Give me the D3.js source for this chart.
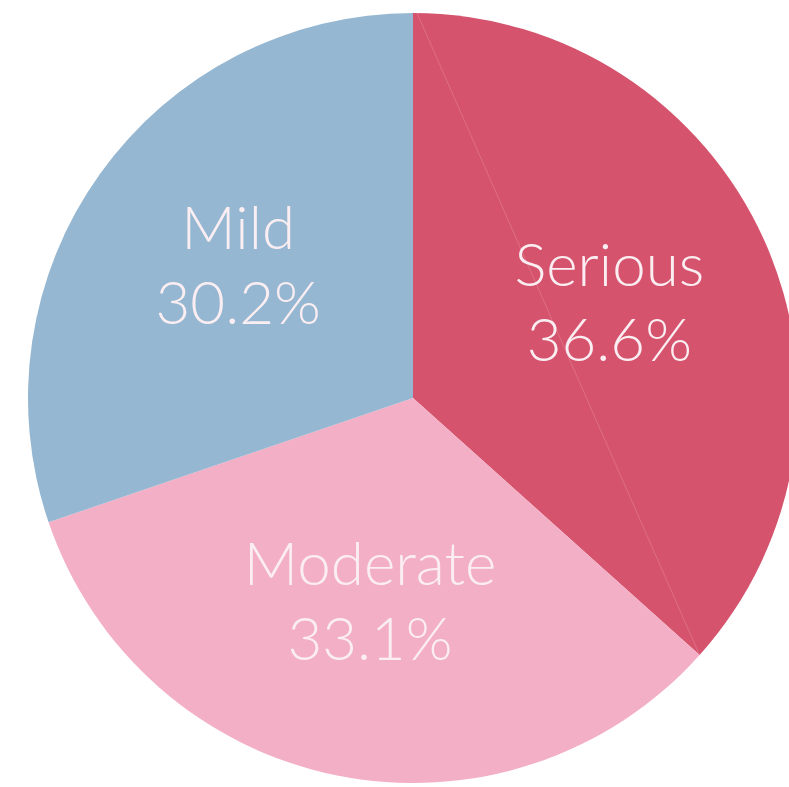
<!DOCTYPE html>
<html>
<head>
<meta charset="utf-8">
<script src="https://cdn.jsdelivr.net/npm/d3@7"></script>
<style>
  body { margin: 0; background: #fff; }
  svg { display: block; }
</style>
</head>
<body>
<svg></svg>
<script>
const categories = ["Serious", "Moderate", "Mild"];
const values = [36.6, 33.1, 30.2];
const colors = ["#d5536d", "#f3afc5", "#95b7d1"];

const width = 789;
const height = 787;
const cx = 413;
const cy = 398;
const radius = 385;

const svg = d3.select("svg").attr("width", width).attr("height", height);

const data = categories.map((c, i) => ({ name: c, value: values[i], color: colors[i] }));

const pie = d3.pie().sort(null).value((d) => d.value);
const arcs = pie(data);

const arc = d3.arc().innerRadius(0).outerRadius(radius);
const labelArc = d3.arc().innerRadius(215).outerRadius(215);

const g = svg.append("g").attr("transform", `translate(${cx},${cy})`);

g.selectAll("path.slice")
  .data(arcs)
  .enter()
  .append("path")
  .attr("class", "slice")
  .attr("d", arc)
  .attr("fill", (d) => d.data.color);

// faint seam across the first slice, as in the original image
const s = arcs[0];
g.append("line")
  .attr("x1", radius * Math.sin(s.startAngle) + 4)
  .attr("y1", -radius * Math.cos(s.startAngle))
  .attr("x2", radius * Math.sin(s.endAngle))
  .attr("y2", -radius * Math.cos(s.endAngle))
  .attr("stroke", "#e78a9c")
  .attr("stroke-width", 1)
  .attr("opacity", 0.5);

const labels = g.selectAll("text")
  .data(arcs)
  .enter()
  .append("text")
  .attr("transform", (d) => `translate(${labelArc.centroid(d)})`)
  .attr("text-anchor", "middle")
  .attr("font-family", "Lato, 'Open Sans', sans-serif")
  .attr("font-weight", 300)
  .attr("font-size", 60)
  .attr("fill", "#fbeef2");

labels.append("tspan")
  .attr("x", 0)
  .attr("dy", -24)
  .text((d) => d.data.name);

labels.append("tspan")
  .attr("x", 0)
  .attr("dy", 75)
  .text((d) => d.data.value.toFixed(1) + "%");
</script>
</body>
</html>
